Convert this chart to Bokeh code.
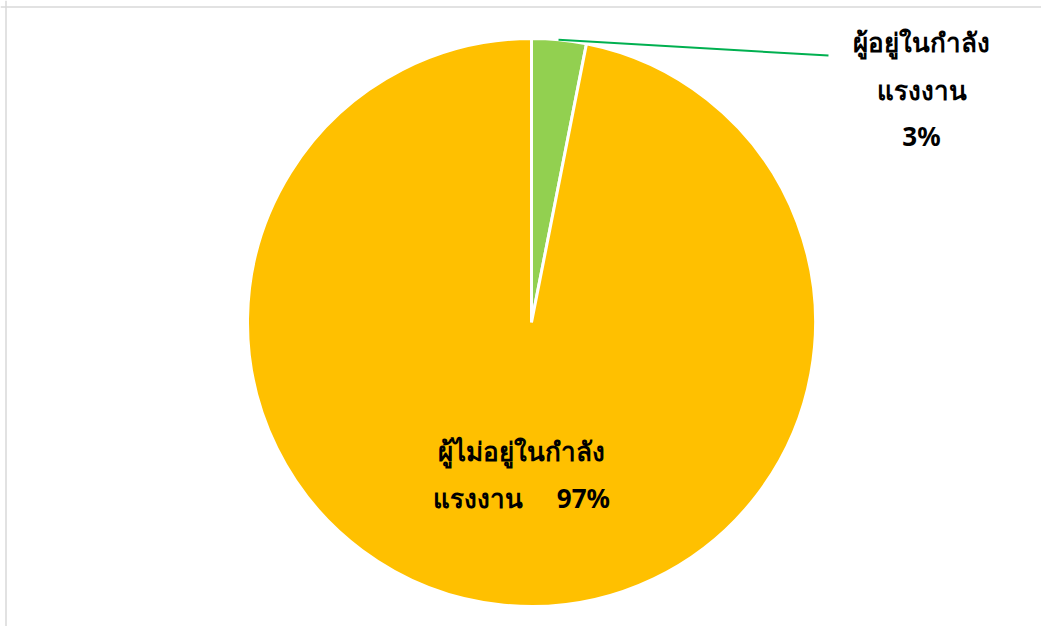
from bokeh.plotting import figure
from bokeh.models import Range1d, Span
from bokeh.core.properties import value
from bokeh.embed import file_html
from bokeh.resources import INLINE
import math

categories = ["ผู้อยู่ในกำลังแรงงาน", "ผู้ไม่อยู่ในกำลังแรงงาน"]
values = [3.1, 96.9]
percent_labels = ["3%", "97%"]
colors = ["#92D050", "#FFC000"]
NB = "\u00a0"
label_lines = [
    ["ผู้อยู่ในกำลัง", "แรงงาน", percent_labels[0]],
    ["ผู้ไม่อยู่ในกำลัง", "แรงงาน" + NB * 5 + percent_labels[1]],
]

W, H = 1041, 626
cx, cy = 531, 322  # pie centre in picture pixels
R = 284

p = figure(width=W, height=H, output_backend="svg", toolbar_location=None,
           x_range=Range1d(-cx, W - cx), y_range=Range1d(-(H - cy), cy),
           min_border=0, outline_line_color=None)
p.axis.visible = False
p.grid.visible = False
p.background_fill_color = "white"
p.border_fill_color = "white"

total = sum(values)
start = math.pi / 2
starts, ends = [], []
for v in values:
    a = 2 * math.pi * v / total
    starts.append(start - a)
    ends.append(start)
    start -= a

p.wedge(x=0, y=0, radius=R, start_angle=starts, end_angle=ends,
        fill_color=colors, line_color="white", line_width=3)

# leader line for the small slice
p.line(x=[27, 297], y=[math.sqrt(R * R - 27 * 27), 267],
       line_color="#00B050", line_width=2)

font = value("Noto Sans")
label_pos = [(390, [281, 233, 187]), (-10, [-128, -175])]
for (lx, ys), lines in zip(label_pos, label_lines):
    p.text(x=[lx] * len(lines), y=ys, text=lines, text_font=font,
           text_font_size="26px", text_font_style="bold", text_align="center",
           text_baseline="alphabetic", text_color="#000000")

# chart border (top and left visible)
p.add_layout(Span(location=cy - 6.5, dimension="width", line_color="#D9D9D9", line_width=1.5))
p.add_layout(Span(location=-cx + 5.5, dimension="height", line_color="#D9D9D9", line_width=1.5))

open("out.html", "w").write(file_html(p, INLINE))
